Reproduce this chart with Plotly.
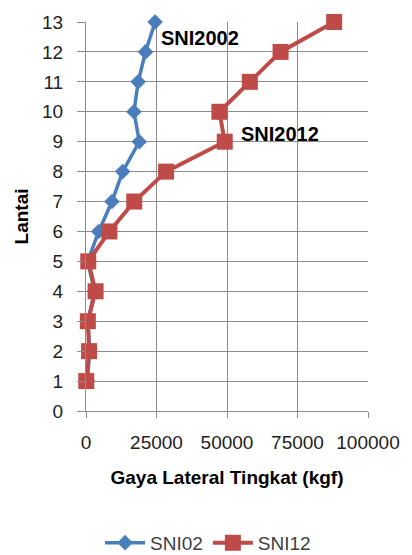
import plotly.graph_objects as go

lantai = [1, 2, 3, 4, 5, 6, 7, 8, 9, 10, 11, 12, 13]
sni02 = [500, 1300, 700, 3000, 600, 4500, 9200, 13000, 18900, 17000, 18500, 21100, 24500]
sni12 = [100, 1100, 650, 3400, 800, 8300, 17100, 28400, 49200, 47300, 58100, 69000, 88000]
x_ticks = [0, 25000, 50000, 75000, 100000]
y_ticks = list(range(0, 14))

BLUE = "#4A7EBB"
RED = "#BE4B48"
FONT = "Liberation Sans"
GRID = "#8C8C8C"

fig = go.Figure()
fig.add_trace(go.Scatter(
    x=sni02, y=lantai, name="SNI02", mode="lines+markers",
    line=dict(color=BLUE, width=3.5),
    marker=dict(symbol="diamond", size=12, color=BLUE),
    cliponaxis=False,
))
fig.add_trace(go.Scatter(
    x=sni12, y=lantai, name="SNI12", mode="lines+markers",
    line=dict(color=RED, width=4),
    marker=dict(symbol="square", size=16, color=RED),
    cliponaxis=False,
))

fig.add_annotation(x=25800, y=12.47, text="<b>SNI2002</b>", showarrow=False,
                   xanchor="left", yanchor="middle",
                   font=dict(family=FONT, size=20, color="#000000"))
fig.add_annotation(x=54200, y=9.26, text="<b>SNI2012</b>", showarrow=False,
                   xanchor="left", yanchor="middle",
                   font=dict(family=FONT, size=20, color="#000000"))

fig.update_layout(
    width=412, height=555,
    margin=dict(l=86, r=39, t=19, b=144),
    paper_bgcolor="white", plot_bgcolor="white",
    font=dict(family=FONT, size=19, color="#222222"),
    showlegend=True,
    legend=dict(orientation="h", xref="container", yref="container",
                x=0.505, y=0.022, xanchor="center", yanchor="middle",
                font=dict(family=FONT, size=19, color="#404040"),
                itemwidth=40, tracegroupgap=0),
)
fig.update_xaxes(
    range=[0, 100000], tickvals=x_ticks, ticktext=[str(v) for v in x_ticks],
    showgrid=True, gridcolor=GRID, gridwidth=1,
    showline=True, linecolor=GRID, linewidth=1,
    ticks="outside", ticklen=6, tickcolor=GRID,
    ticklabelstandoff=8, zeroline=False,
    title=dict(text="<b>Gaya Lateral Tingkat (kgf)</b>", standoff=18,
               font=dict(family=FONT, size=19, color="#000000")),
)
fig.update_yaxes(
    range=[0, 13], tickvals=y_ticks,
    showgrid=True, gridcolor=GRID, gridwidth=1,
    showline=True, linecolor=GRID, linewidth=1,
    ticks="outside", ticklen=8, tickcolor=GRID,
    ticklabelstandoff=10, zeroline=False,
    title=dict(text="<b>Lantai</b>", standoff=8,
               font=dict(family=FONT, size=19, color="#000000")),
)

fig.write_html("out.html")
